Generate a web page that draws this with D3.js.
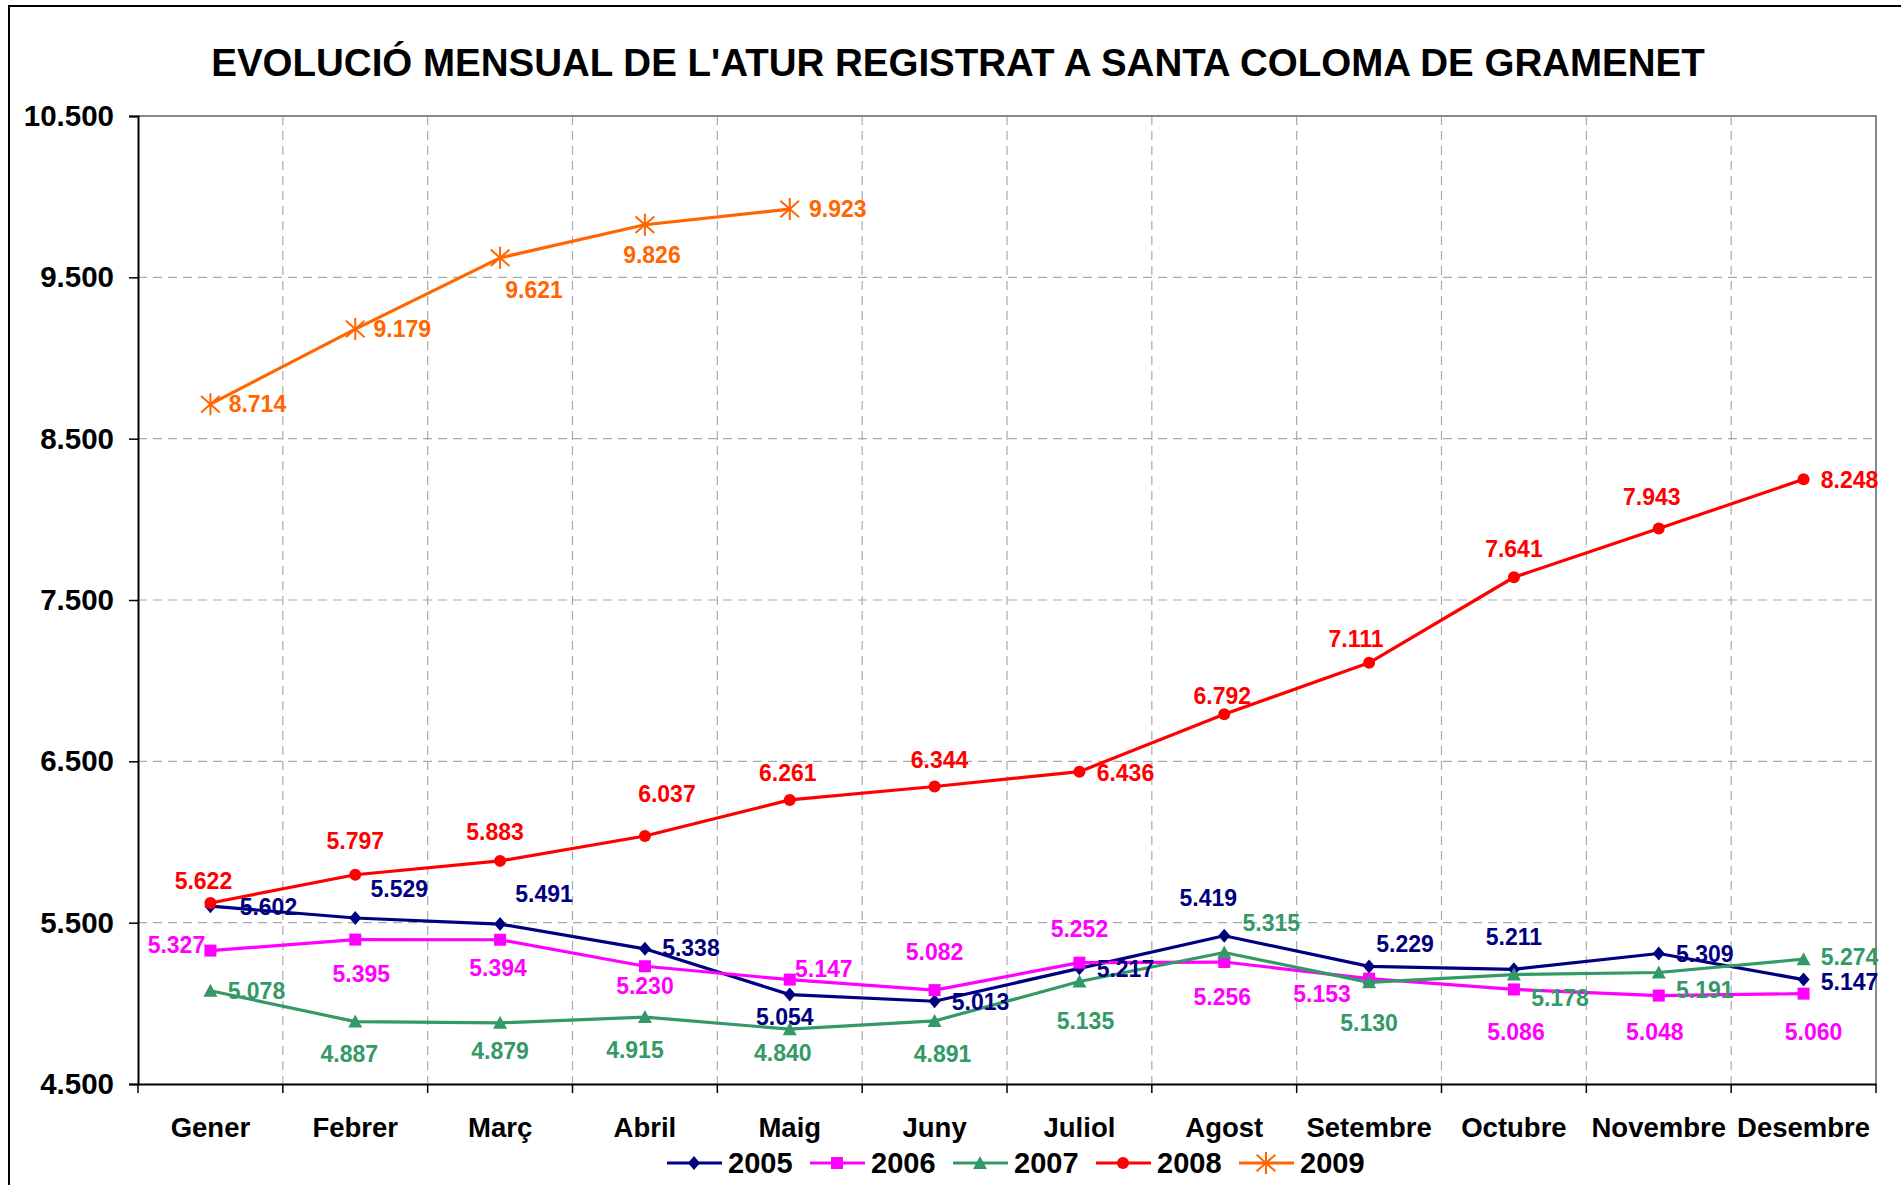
<!DOCTYPE html>
<html><head><meta charset="utf-8">
<script src="https://cdn.jsdelivr.net/npm/d3@7"></script>
<style>
html,body{margin:0;padding:0;background:#fff;}
text{font-family:"Liberation Sans",Arial,sans-serif;font-weight:bold;}
</style></head>
<body><svg id="chart" width="1901" height="1185"></svg>
<script>
const title = "EVOLUCIÓ MENSUAL DE L'ATUR REGISTRAT A SANTA COLOMA DE GRAMENET";
const months = ["Gener","Febrer","Març","Abril","Maig","Juny","Juliol","Agost","Setembre","Octubre","Novembre","Desembre"];
const yTicks = [4500,5500,6500,7500,8500,9500,10500];
const seriesNames = ["2005","2006","2007","2008","2009"];
const values2005 = [5602,5529,5491,5338,5054,5013,5217,5419,5229,5211,5309,5147];
const values2006 = [5327,5395,5394,5230,5147,5082,5252,5256,5153,5086,5048,5060];
const values2007 = [5078,4887,4879,4915,4840,4891,5135,5315,5130,5178,5191,5274];
const values2008 = [5622,5797,5883,6037,6261,6344,6436,6792,7111,7641,7943,8248];
const values2009 = [8714,9179,9621,9826,9923];

// styling / label placement (px offsets of label centre from point)
const colors = ["#000080","#FF00FF","#339966","#FF0000","#FF6600"];
const markers = ["diamond","square","triangle","circle","star"];
const labelOffsets = [
  [[58,1],[44,-29],[44,-30],[46,-1],[-5,22],[46,0],[46,0],[-16,-38],[36,-23],[0,-33],[46,0],[46,2]],
  [[-34,-6],[6,34],[-2,28],[0,19],[34,-11],[0,-38],[0,-34],[-2,35],[-47,15],[2,42],[-4,36],[10,38]],
  [[46,0],[-6,32],[0,28],[-10,33],[-7,24],[8,33],[6,39],[47,-30],[0,40],[46,23],[46,17],[46,-2]],
  [[-7,-22],[0,-34],[-5,-29],[22,-42],[-2,-27],[5,-27],[46,1],[-2,-19],[-13,-24],[0,-29],[-7,-32],[46,0]],
  [[47,0],[47,0],[34,32],[7,30],[48,0]]
];

const allValues = [values2005,values2006,values2007,values2008,values2009];
const fmt = v => d3.format(",")(v).replace(/,/g,".");
const FONT = "'Liberation Sans',Arial,sans-serif";

const svg = d3.select("#chart");
// outer border
svg.append("rect").attr("x",9).attr("y",6).attr("width",1910).attr("height",1200)
  .attr("fill","none").attr("stroke","#000").attr("stroke-width",2);

const m = {left:138, right:1876, top:116, bottom:1084};
const x = d3.scaleBand().domain(months).range([m.left,m.right]).paddingInner(0).paddingOuter(0);
const y = d3.scaleLinear().domain([4500,10500]).range([m.bottom,m.top]);
const cx = d => x(d)+x.bandwidth()/2;

// title
svg.append("text").attr("x",958).attr("y",76).attr("text-anchor","middle")
  .attr("font-size",38.5).attr("fill","#000").text(title);

// gridlines horizontal
svg.append("g").selectAll("line").data(yTicks.slice(1)).join("line")
  .attr("x1",m.left).attr("x2",m.right).attr("y1",d=>y(d)).attr("y2",d=>y(d))
  .attr("stroke","#aaa").attr("stroke-width",1.2).attr("stroke-dasharray","9,6");
// gridlines vertical at band boundaries
svg.append("g").selectAll("line").data(months.slice(1)).join("line")
  .attr("x1",d=>x(d)).attr("x2",d=>x(d)).attr("y1",m.top).attr("y2",m.bottom)
  .attr("stroke","#aaa").attr("stroke-width",1.2).attr("stroke-dasharray","9,6");
// plot border top/right
svg.append("path").attr("d",`M${m.left},${m.top}H${m.right}V${m.bottom}`)
  .attr("fill","none").attr("stroke","#888").attr("stroke-width",2);

// y axis
const yAxis = d3.axisLeft(y).tickValues(yTicks).tickSize(9).tickPadding(15).tickFormat(fmt);
const gy = svg.append("g").attr("transform",`translate(${m.left},0)`).call(yAxis);
gy.select(".domain").attr("stroke","#000").attr("stroke-width",2);
gy.selectAll(".tick line").attr("stroke","#000").attr("stroke-width",1.5);
gy.selectAll(".tick text").attr("font-size",29.5).attr("fill","#000")
  .style("font-family",FONT).style("font-weight","bold");

// x axis
const xAxis = d3.axisBottom(x).tickSize(0).tickPadding(33);
const gx = svg.append("g").attr("transform",`translate(0,${m.bottom})`).call(xAxis);
gx.select(".domain").attr("stroke","#000").attr("stroke-width",2);
gx.selectAll(".tick text").attr("font-size",27.5).attr("fill","#000")
  .style("font-family",FONT).style("font-weight","bold");
// category boundary ticks
svg.append("g").selectAll("line").data(months.concat(["_end"])).join("line")
  .attr("x1",(d,i)=>m.left+i*x.bandwidth()).attr("x2",(d,i)=>m.left+i*x.bandwidth())
  .attr("y1",m.bottom).attr("y2",m.bottom+9).attr("stroke","#000").attr("stroke-width",1.5);

function drawMarker(g, type, color, px, py){
  if(type==="diamond"){
    g.append("path").attr("d",`M${px},${py-7}L${px+6},${py}L${px},${py+7}L${px-6},${py}Z`).attr("fill",color);
  } else if(type==="square"){
    g.append("rect").attr("x",px-6).attr("y",py-6).attr("width",12).attr("height",12).attr("fill",color);
  } else if(type==="triangle"){
    g.append("path").attr("d",`M${px},${py-7}L${px+7},${py+6}L${px-7},${py+6}Z`).attr("fill",color);
  } else if(type==="circle"){
    g.append("circle").attr("cx",px).attr("cy",py).attr("r",6).attr("fill",color);
  } else if(type==="star"){
    const r=11;
    g.append("path").attr("d",`M${px},${py-r}V${py+r}M${px-r*0.85},${py-r*0.75}L${px+r*0.85},${py+r*0.75}M${px-r*0.85},${py+r*0.75}L${px+r*0.85},${py-r*0.75}`)
      .attr("stroke",color).attr("stroke-width",2).attr("fill","none");
  }
}

const line = d3.line().x((d,i)=>cx(months[i])).y(d=>y(d));
allValues.forEach((vals,si)=>{
  const g = svg.append("g");
  g.append("path").datum(vals).attr("d",line).attr("fill","none")
    .attr("stroke",colors[si]).attr("stroke-width",3.2).attr("stroke-linejoin","round");
  vals.forEach((v,i)=>drawMarker(g,markers[si],colors[si],cx(months[i]),y(v)));
});
// labels on top
allValues.forEach((vals,si)=>{
  const g = svg.append("g");
  vals.forEach((v,i)=>{
    const o = labelOffsets[si][i];
    g.append("text").attr("x",cx(months[i])+o[0]).attr("y",y(v)+o[1]).attr("dy","0.36em")
      .attr("text-anchor","middle").attr("font-size",23).attr("fill",colors[si]).text(fmt(v));
  });
});

// legend
const legendX = [667,810,953,1096,1239];
const lg = svg.append("g");
seriesNames.forEach((n,i)=>{
  const lx = legendX[i], ly = 1163;
  lg.append("line").attr("x1",lx).attr("x2",lx+55).attr("y1",ly).attr("y2",ly)
    .attr("stroke",colors[i]).attr("stroke-width",3.2);
  drawMarker(lg,markers[i],colors[i],lx+27,ly);
  lg.append("text").attr("x",lx+61).attr("y",ly).attr("dy","0.36em").attr("font-size",29)
    .attr("fill","#000").text(n);
});
</script></body></html>
